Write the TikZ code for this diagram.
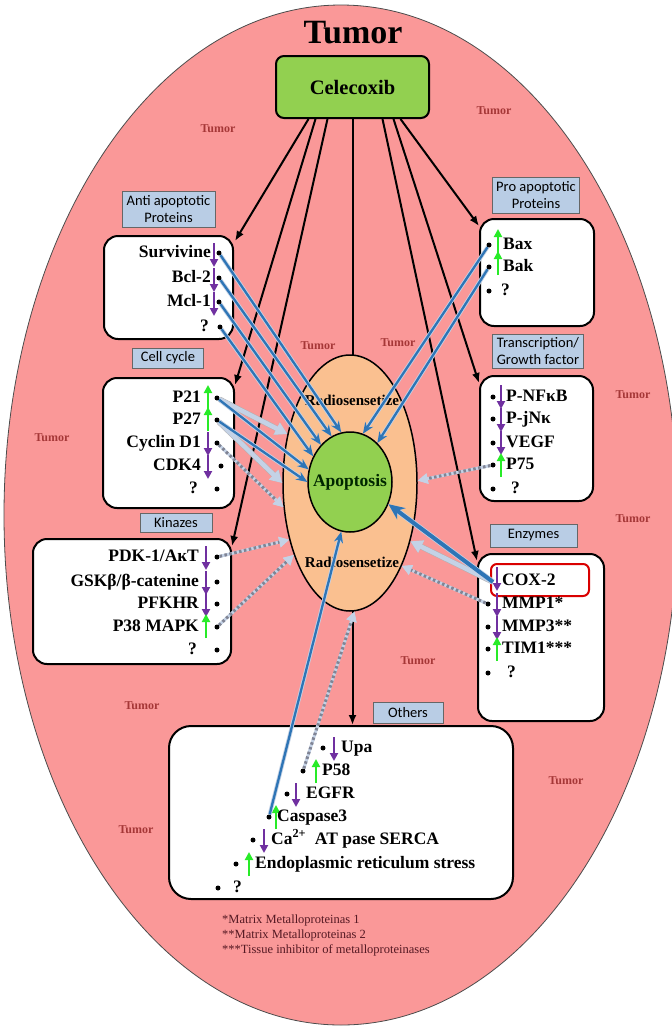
\documentclass[tikz,border=0pt]{standalone}
\usepackage{fontspec}
\setmainfont{Liberation Serif}
\newfontfamily\calib{Carlito}
\usetikzlibrary{arrows.meta,calc,shapes.geometric}

\definecolor{tumfill}{RGB}{250,152,152}
\definecolor{orangef}{RGB}{250,192,144}
\definecolor{greenf}{RGB}{146,208,80}
\definecolor{lblue}{RGB}{185,205,229}
\definecolor{arrblue}{RGB}{46,117,182}
\definecolor{haze}{RGB}{196,210,230}
\definecolor{dotgray}{RGB}{128,132,148}
\definecolor{upgreen}{RGB}{40,235,40}
\definecolor{dnpurple}{RGB}{112,48,160}
\definecolor{tumred}{RGB}{165,55,55}
\definecolor{notecol}{RGB}{85,25,35}

\begin{document}
\begin{tikzpicture}[x=1pt,y=-1pt,
 every node/.style={inner sep=0pt},
 tumlbl/.style={font=\bfseries\fontsize{12}{14}\selectfont, text=tumred},
 catlbl/.style={draw=gray!80!black, line width=0.8pt, fill=lblue, font=\calib\fontsize{14.5}{17}\selectfont, align=center, inner xsep=4pt, inner ysep=2pt},
 itembox/.style={draw=black, line width=2pt, fill=white, rounded corners=14pt, anchor=north west},
 itm/.style={font=\bfseries\fontsize{17.5}{20}\selectfont, text height=12pt, text depth=4pt},
 dotn/.style={circle, fill=black, minimum size=5pt},
 uparr/.style={draw=upgreen, line width=2.4pt, -{Triangle[length=8pt,width=8pt]}},
 dnarr/.style={draw=dnpurple, line width=2.4pt, -{Triangle[length=8pt,width=8pt]}},
 blk/.style={draw=black, line width=2pt, -{Latex[length=10pt,width=8pt]}},
 bluearr/.style={draw=arrblue, line width=2.3pt, -{Stealth[length=11pt,width=9pt]}, preaction={draw=haze, line width=4pt}},
 coxarr/.style={draw=arrblue, line width=4pt, -{Stealth[length=16pt,width=14pt]}, preaction={draw=haze, line width=5.5pt}},
 lightarr/.style={draw=haze, line width=4.5pt, -{Triangle[length=12pt,width=13pt]}, preaction={draw=gray!60, line width=5.5pt}},
 dotarr/.style={draw=dotgray, line width=3pt, dash pattern=on 2.5pt off 2.5pt, -{Triangle[length=10pt,width=10pt,color=haze]}, preaction={draw=haze, solid, line width=3pt}},
]
\useasboundingbox (0,0) rectangle (672,1029);
\fill[white] (0,0) rectangle (672,1029);
\node[ellipse, draw=gray!60!black, line width=0.8pt, fill=tumfill, minimum width=674pt, minimum height=1020pt] (tum) at (341,515) {};

\node[font=\bfseries\fontsize{34}{40}\selectfont] (title) at (353,33) {Tumor};
\node[draw=black, line width=2pt, fill=greenf, rounded corners=8pt, minimum width=153pt, minimum height=62pt, font=\bfseries\fontsize{20.5}{24}\selectfont] (cel) at (352.5,87) {Celecoxib};

% small Tumor labels
\node[tumlbl] (tl1) at (218,129) {Tumor};
\node[tumlbl] (tl2) at (494,111) {Tumor};
\node[tumlbl] (tl3) at (318,346) {Tumor};
\node[tumlbl] (tl4) at (398,343) {Tumor};
\node[tumlbl] (tl5) at (52,438) {Tumor};
\node[tumlbl] (tl6) at (633,395) {Tumor};
\node[tumlbl] (tl7) at (633,519) {Tumor};
\node[tumlbl] (tl8) at (142,706) {Tumor};
\node[tumlbl] (tl9) at (418,661) {Tumor};
\node[tumlbl] (tl10) at (566,781) {Tumor};
\node[tumlbl] (tl11) at (136,830) {Tumor};

% category labels
\node[catlbl, minimum width=93pt, minimum height=36pt] (l-anti) at (168.5,209) {Anti apoptotic\\Proteins};
\node[catlbl, minimum width=71pt, minimum height=20pt] (l-cell) at (168,358) {Cell cycle};
\node[catlbl, minimum width=72pt, minimum height=19pt] (l-kin) at (176,523) {Kinazes};
\node[catlbl, minimum width=83pt, minimum height=36pt] (l-pro) at (536,195) {Pro apoptotic\\Proteins};
\node[catlbl, minimum width=88pt, minimum height=34pt] (l-tr) at (538,351.5) {Transcription/\\Growth factor};
\node[catlbl, minimum width=87pt, minimum height=23pt] (l-enz) at (533.5,535.5) {Enzymes};
\node[catlbl, minimum width=70pt, minimum height=21pt] (l-oth) at (408,712.5) {Others};

% item boxes
\node[itembox, minimum width=129pt, minimum height=103pt] (anti) at (103,235) {};
\node[itembox, minimum width=131pt, minimum height=130pt] (cell) at (102,377) {};
\node[itembox, minimum width=198pt, minimum height=125pt] (kin) at (32,538) {};
\node[itembox, minimum width=114pt, minimum height=107pt] (pro) at (479,218) {};
\node[itembox, minimum width=113pt, minimum height=125pt] (trans) at (479,375) {};
\node[itembox, minimum width=126pt, minimum height=167pt] (enz) at (477,553) {};
\node[itembox, minimum width=344pt, minimum height=173pt, rounded corners=22pt] (oth) at (168,725) {};

% black arrows from Celecoxib
\draw[blk] ($(cel.south)+(-44,0)$) -- ($(anti.north east)+(1,6)$);
\draw[blk] ($(cel.south)+(-37,0)$) -- ($(cell.north east)+(0,8)$);
\draw[blk] ($(cel.south)+(-25,0)$) -- ($(kin.north east)+(0,8)$);
\draw[blk] (cel.south) -- (cel.south |- oth.north);
\draw[blk] ($(cel.south)+(48,0)$) -- ($(pro.north west)+(0,8)$);
\draw[blk] ($(cel.south)+(41,0)$) -- ($(trans.north west)+(0,8)$);
\draw[blk] ($(cel.south)+(30,0)$) -- ($(enz.north west)+(0,8)$);

% radiosensitize ellipse and apoptosis
\node[ellipse, draw=black, line width=1.5pt, fill=orangef, minimum width=134pt, minimum height=256pt] (rad) at (350,483) {};
\node[font=\bfseries\fontsize{15}{18}\selectfont] (rs1) at (352,400) {Radiosensetize};
\node[font=\bfseries\fontsize{15}{18}\selectfont] (rs2) at (352,562) {Radiosensetize};
\node[ellipse, draw=black, line width=1.5pt, fill=greenf, minimum width=84pt, minimum height=100pt] (apo) at (350,482) {};
\node[font=\bfseries\fontsize{17.5}{20}\selectfont, text=black!85!green] (apotxt) at (350,482) {Apoptosis};

% Anti apoptotic items
\node[itm, anchor=east] (t-surv) at (211,253) {Survivine};
\draw[dnarr] (214,243) -- (214,267);
\node[dotn] (d-surv) at (219,253) {};
\node[itm, anchor=east] (t-bcl) at (211,278) {Bcl-2};
\draw[dnarr] (214,268) -- (214,292);
\node[dotn] (d-bcl) at (219,278) {};
\node[itm, anchor=east] (t-mcl) at (211,302) {Mcl-1};
\draw[dnarr] (214,292) -- (214,316);
\node[dotn] (d-mcl) at (219,302) {};
\node[itm, anchor=east] (t-q1) at (209,327) {?};
\node[dotn] (d-q1) at (220,327) {};

% Cell cycle items
\node[itm, anchor=east] (t-p21) at (201,398) {P21};
\draw[uparr] (208,409) -- (208,385);
\node[dotn] (d-p21) at (217,398) {};
\node[itm, anchor=east] (t-p27) at (201,420) {P27};
\draw[uparr] (208,431) -- (208,407);
\node[dotn] (d-p27) at (217,420) {};
\node[itm, anchor=east] (t-cyc) at (201,443) {Cyclin D1};
\draw[dnarr] (208,432) -- (208,456);
\node[dotn] (d-cyc) at (217,443) {};
\node[itm, anchor=east] (t-cdk) at (201,466) {CDK4};
\draw[dnarr] (208,455) -- (208,479);
\node[dotn] (d-cdk) at (221,466) {};
\node[itm, anchor=east] (t-q2) at (198,489) {?};
\node[dotn] (d-q2) at (217,489) {};

% Kinases items
\node[itm, anchor=east] (t-pdk) at (199,557) {PDK-1/AĸT};
\draw[dnarr] (206,546) -- (206,570);
\node[dotn] (d-pdk) at (217,557) {};
\node[itm, anchor=east] (t-gsk) at (199,582) {GSKβ/β-catenine};
\draw[dnarr] (206,571) -- (206,595);
\node[dotn] (d-gsk) at (217,582) {};
\node[itm, anchor=east] (t-pfk) at (199,604) {PFKHR};
\draw[dnarr] (206,593) -- (206,617);
\node[dotn] (d-pfk) at (217,604) {};
\node[itm, anchor=east] (t-p38) at (199,627) {P38 MAPK};
\draw[uparr] (206,638) -- (206,614);
\node[dotn] (d-p38) at (217,627) {};
\node[itm, anchor=east] (t-q3) at (197,650) {?};
\node[dotn] (d-q3) at (217,650) {};

% Pro apoptotic items
\node[dotn] (d-bax) at (489,245) {};
\draw[uparr] (498,253) -- (498,229);
\node[itm, anchor=west] (t-bax) at (503,245) {Bax};
\node[dotn] (d-bak) at (489,267) {};
\draw[uparr] (498,275) -- (498,251);
\node[itm, anchor=west] (t-bak) at (503,267) {Bak};
\node[dotn] (d-q4) at (489,291) {};
\node[itm, anchor=west] (t-q4) at (501,291) {?};

% Transcription items
\node[dotn] (d-nfkb) at (493,397) {};
\draw[dnarr] (501,385) -- (501,409);
\node[itm, anchor=west] (t-nfkb) at (506,397) {P-NFκB};
\node[dotn] (d-jnk) at (493,419) {};
\draw[dnarr] (501,408) -- (501,432);
\node[itm, anchor=west] (t-jnk) at (506,419) {P-jNκ};
\node[dotn] (d-vegf) at (493,443) {};
\draw[dnarr] (501,431) -- (501,455);
\node[itm, anchor=west] (t-vegf) at (506,443) {VEGF};
\node[dotn] (d-p75) at (493,465) {};
\draw[uparr] (501,477) -- (501,453);
\node[itm, anchor=west] (t-p75) at (506,465) {P75};
\node[dotn] (d-q5) at (493,489) {};
\node[itm, anchor=west] (t-q5) at (511,489) {?};

% Enzymes items
\node[draw=red!85!black, line width=2pt, rounded corners=6pt, minimum width=98pt, minimum height=32pt, anchor=north west] (coxbox) at (490,563) {};
\coordinate (c-cox) at (493,582);
\draw[dnarr] (497,567) -- (497,591);
\node[itm, anchor=west] (t-cox) at (502,581) {COX-2};
\node[dotn] (d-mmp1) at (488,604) {};
\draw[dnarr] (497,593) -- (497,617);
\node[itm, anchor=west] (t-mmp1) at (502,604) {MMP1*};
\node[dotn] (d-mmp3) at (488,627) {};
\draw[dnarr] (497,616) -- (497,640);
\node[itm, anchor=west] (t-mmp3) at (502,627) {MMP3**};
\node[dotn] (d-tim) at (488,649) {};
\draw[uparr] (497,661) -- (497,637);
\node[itm, anchor=west] (t-tim) at (502,649) {TIM1***};
\node[dotn] (d-q6) at (488,673) {};
\node[itm, anchor=west] (t-q6) at (507,673) {?};

% Others items
\node[dotn] (d-upa) at (323,748) {};
\draw[dnarr] (334,737) -- (334,761);
\node[itm, anchor=west] (t-upa) at (341,748) {Upa};
\node[dotn] (d-p58) at (303,771) {};
\draw[uparr] (316,783) -- (316,759);
\node[itm, anchor=west] (t-p58) at (322,771) {P58};
\node[dotn] (d-egfr) at (287,794) {};
\draw[dnarr] (296,783) -- (296,807);
\node[itm, anchor=west] (t-egfr) at (306,794) {EGFR};
\node[dotn] (d-casp) at (269,817) {};
\draw[uparr] (276,829) -- (276,805);
\node[itm, anchor=west] (t-casp) at (277,817) {Caspase3};
\node[dotn] (d-ca) at (253,840) {};
\draw[dnarr] (264,829) -- (264,853);
\node[itm, anchor=west] (t-ca) at (271,840) {Ca\textsuperscript{2+}\ \ AT pase SERCA};
\node[dotn] (d-er) at (236,864) {};
\draw[uparr] (249,876) -- (249,852);
\node[itm, anchor=west] (t-er) at (255,864) {Endoplasmic reticulum stress};
\node[dotn] (d-q7) at (218,888) {};
\node[itm, anchor=west] (t-q7) at (233,888) {?};

% connectors to apoptosis / radiosensitize
\draw[lightarr] (d-p21) -- (rad.142);
\draw[lightarr] (d-p27) -- (rad.180);
\draw[dotarr] (d-cyc) -- (rad.200);
\draw[dotarr] (d-pdk) -- (rad.223);
\draw[dotarr] (d-p38) -- (rad.232);
\draw[dotarr] (d-p75) -- (rad.2);
\draw[lightarr] (c-cox) -- (rad.316);
\draw[dotarr] (d-mmp1) -- (rad.302);
\draw[dotarr] (d-p58) -- (rad.272);
\draw[bluearr] (d-surv) -- (apo.100);
\draw[bluearr] (d-bcl) -- (apo.112);
\draw[bluearr] (d-mcl) -- (apo.128);
\draw[bluearr] (d-q1) -- (apo.145);
\draw[bluearr] (d-p21) -- (apo.163);
\draw[bluearr] (d-p27) -- (apo.180);
\draw[bluearr] (d-bax) -- (apo.75);
\draw[bluearr] (d-bak) -- (apo.55);
\draw[coxarr] (c-cox) -- (apo.-30);
\draw[bluearr] (d-casp) -- (apo.260);

% footnotes
\node[anchor=west, font=\fontsize{12.5}{15}\selectfont, text=notecol] (fn1) at (222,920) {*Matrix Metalloproteinas 1};
\node[anchor=west, font=\fontsize{12.5}{15}\selectfont, text=notecol] (fn2) at (222,935) {**Matrix Metalloproteinas 2};
\node[anchor=west, font=\fontsize{12.5}{15}\selectfont, text=notecol] (fn3) at (222,950) {***Tissue inhibitor of metalloproteinases};
\end{tikzpicture}
\end{document}
